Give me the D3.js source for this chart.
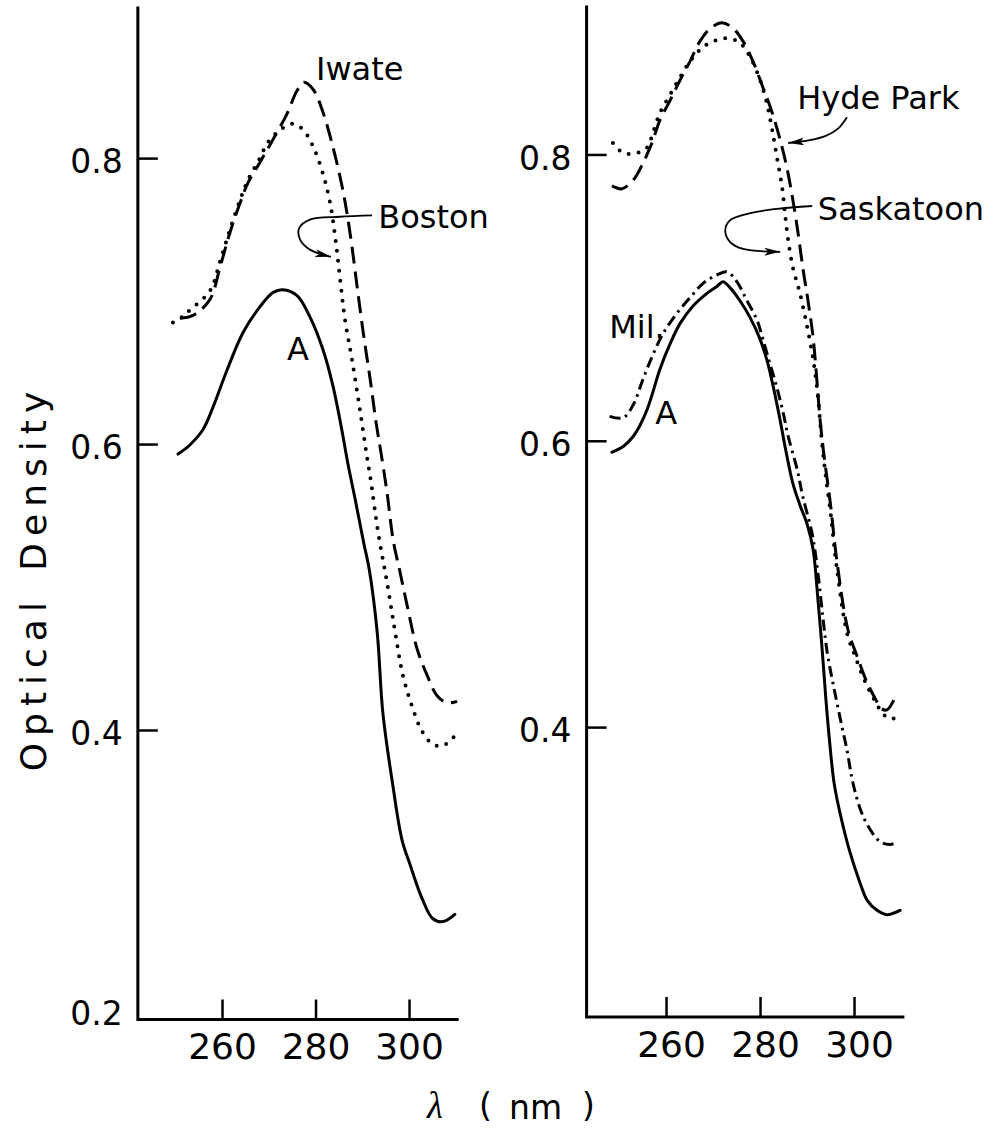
<!DOCTYPE html>
<html><head><meta charset="utf-8">
<script src="https://cdn.jsdelivr.net/npm/d3@7"></script>
<style>body{margin:0;background:#fff}</style>
</head><body>
<svg id="chart" width="992" height="1129" xmlns="http://www.w3.org/2000/svg"></svg>
<script>
// ---------- data (wavelength nm, optical density) ----------
const xTicks = [260, 280, 300];
const yTicksLeft = [0.2, 0.4, 0.6, 0.8];
const yTicksRight = [0.4, 0.6, 0.8];

const leftA = [[250.6,0.593],[253.0,0.599],[255.9,0.610],[258.1,0.626],[261.1,0.652],[264.5,0.678],[268.1,0.696],[270.9,0.706],[273.0,0.708],[276.0,0.704],[278.8,0.689],[281.6,0.666],[283.7,0.641],[285.5,0.612],[287.0,0.585],[288.5,0.561],[290.3,0.531],[291.5,0.512],[293.2,0.468],[294.4,0.412],[296.5,0.362],[298.5,0.323],[300.2,0.306],[302.8,0.282],[305.1,0.268],[307.3,0.266],[309.8,0.271]];
const iwate = [[251.0,0.688],[253.8,0.690],[257.4,0.701],[259.6,0.724],[261.7,0.748],[263.9,0.769],[265.6,0.783],[268.1,0.797],[270.9,0.813],[273.9,0.831],[276.0,0.847],[277.5,0.853],[279.5,0.848],[281.6,0.832],[283.7,0.808],[285.7,0.780],[286.7,0.762],[287.8,0.738],[288.9,0.710],[290.2,0.678],[291.7,0.645],[293.0,0.614],[294.0,0.594],[295.3,0.566],[296.6,0.533],[298.1,0.510],[299.6,0.487],[301.7,0.457],[303.9,0.438],[306.0,0.424],[308.1,0.419],[310.3,0.420]];
const boston = [[249.5,0.685],[251.5,0.689],[253.2,0.694],[257.4,0.707],[259.6,0.728],[261.7,0.750],[263.9,0.771],[265.6,0.785],[268.1,0.800],[269.6,0.810],[271.8,0.818],[275.0,0.824],[277.3,0.820],[279.5,0.808],[281.6,0.789],[283.1,0.769],[284.2,0.745],[285.2,0.717],[286.3,0.687],[287.8,0.659],[289.5,0.624],[291.0,0.591],[291.7,0.577],[293.4,0.538],[295.3,0.503],[297.0,0.469],[298.7,0.438],[300.6,0.417],[302.8,0.399],[305.1,0.390],[307.3,0.389],[309.8,0.396]];

const hydePark = [[248.5,0.778],[250.6,0.776],[253.0,0.782],[255.1,0.794],[257.0,0.808],[258.7,0.824],[260.9,0.838],[263.0,0.852],[265.1,0.865],[267.2,0.879],[269.4,0.888],[271.9,0.892],[274.3,0.888],[276.4,0.879],[278.5,0.865],[280.6,0.847],[282.6,0.829],[284.3,0.810],[285.7,0.791],[287.0,0.768],[288.1,0.745],[289.1,0.721],[290.2,0.698],[291.3,0.672],[292.1,0.642],[292.8,0.614],[293.6,0.590],[294.9,0.558],[296.4,0.515],[298.7,0.468],[300.6,0.450],[302.8,0.431],[304.5,0.420],[305.8,0.413],[307.0,0.412],[308.5,0.419]];
const saskatoon = [[248.7,0.808],[250.9,0.801],[253.8,0.801],[256.0,0.805],[257.2,0.815],[258.7,0.829],[260.9,0.842],[263.0,0.854],[265.1,0.865],[267.9,0.875],[270.9,0.880],[273.6,0.881],[275.7,0.878],[277.9,0.868],[280.0,0.852],[281.5,0.835],[282.6,0.817],[283.6,0.798],[284.7,0.777],[285.3,0.759],[286.0,0.740],[287.0,0.721],[288.5,0.703],[290.0,0.680],[291.3,0.657],[292.3,0.632],[293.0,0.605],[293.8,0.580],[295.0,0.550],[296.3,0.512],[298.5,0.466],[300.4,0.448],[302.6,0.430],[304.5,0.418],[306.0,0.410],[307.5,0.406],[309.8,0.407]];
const mil = [[248.0,0.617],[250.9,0.616],[253.0,0.625],[255.1,0.643],[257.2,0.660],[259.4,0.675],[262.3,0.689],[265.1,0.700],[267.9,0.710],[270.9,0.716],[273.0,0.718],[275.1,0.711],[277.2,0.698],[279.4,0.684],[280.6,0.671],[282.1,0.654],[283.6,0.637],[284.9,0.620],[286.0,0.603],[287.9,0.580],[289.1,0.561],[291.1,0.535],[292.3,0.508],[293.4,0.476],[294.3,0.452],[295.5,0.431],[297.0,0.407],[298.5,0.384],[299.7,0.362],[301.3,0.343],[302.8,0.332],[305.5,0.320],[307.7,0.318],[309.4,0.320]];
const rightA = [[248.5,0.592],[250.9,0.596],[253.0,0.603],[254.5,0.611],[256.0,0.622],[257.2,0.634],[258.7,0.650],[260.9,0.668],[263.0,0.682],[265.7,0.694],[268.7,0.703],[270.9,0.708],[272.1,0.711],[273.6,0.707],[275.7,0.698],[277.9,0.686],[280.0,0.671],[281.5,0.656],[282.8,0.638],[284.3,0.614],[285.5,0.593],[287.0,0.570],[288.5,0.555],[290.0,0.542],[291.3,0.524],[292.3,0.490],[293.2,0.455],[294.0,0.420],[294.8,0.390],[295.8,0.360],[297.3,0.336],[299.1,0.313],[301.3,0.291],[302.8,0.279],[304.9,0.272],[307.0,0.269],[309.8,0.272]];

// annotation arrows (data units)
const bostonArrow = [[292.1,0.760],[285.2,0.759],[278.8,0.757],[276.5,0.751],[276.7,0.743],[278.8,0.736],[283.3,0.731]];
const saskatoonArrow = [[291.1,0.764],[283.6,0.762],[277.9,0.759],[273.6,0.754],[272.6,0.747],[273.6,0.739],[276.4,0.734],[284.3,0.732]];
const hydeParkArrow = [[298.5,0.826],[296.6,0.818],[294.0,0.813],[290.6,0.810],[286.0,0.808]];

// ---------- layout ----------
const svg = d3.select("#chart");
svg.append("rect").attr("width",992).attr("height",1129).attr("fill","#fff");
const FONT = "'DejaVu Sans', Verdana, sans-serif";

const panels = [
  {x: d3.scaleLinear().domain([242, 310.3]).range([137.85, 457.2]),
   y: d3.scaleLinear().domain([0.1975, 0.905]).range([1019.5, 8]),
   yTicks: yTicksLeft, xdx: 0,
   series: [
     {data: leftA, style: "solid"},
     {data: iwate, style: "dashed"},
     {data: boston, style: "dotted"}],
   arrows: [bostonArrow],
   labels: [{t:"Iwate", p:[280.1,0.8545]}, {t:"Boston", p:[293.4,0.751]}, {t:"A", p:[273.9,0.659]}]},
  {x: d3.scaleLinear().domain([243.1, 310.4]).range([586.6, 902.9]),
   y: d3.scaleLinear().domain([0.1975, 0.903]).range([1017, 7]),
   yTicks: yTicksRight, xdx: 5,
   series: [
     {data: rightA, style: "solid"},
     {data: mil, style: "dashdot"},
     {data: hydePark, style: "dashed"},
     {data: saskatoon, style: "dotted"}],
   arrows: [saskatoonArrow, hydeParkArrow],
   labels: [{t:"Hyde Park", p:[287.9,0.832]}, {t:"Saskatoon", p:[292.3,0.754]}, {t:"Mil.", p:[247.9,0.672]}, {t:"A", p:[257.7,0.612]}]}
];

const styles = {
  solid:   {w:3, dash:null, cap:"round"},
  dashed:  {w:3, dash:"17,8", cap:"butt"},
  dotted:  {w:4, dash:"0,10", cap:"round"},
  dashdot: {w:3, dash:"11,5,2.5,5", cap:"butt"}
};

const defs = svg.append("defs");
defs.append("marker").attr("id","ah").attr("markerUnits","userSpaceOnUse")
  .attr("markerWidth",18).attr("markerHeight",10).attr("refX",16).attr("refY",4)
  .attr("orient","auto")
  .append("path").attr("d","M0,0 L16,4 L0,8 L4,4 Z").attr("fill","#000");

panels.forEach(P => {
  const g = svg.append("g");
  const [x0, x1] = P.x.range();
  const [yb, yt] = P.y.range();

  // y axis
  const ya = d3.axisLeft(P.y).tickValues(P.yTicks).tickSizeInner(-20).tickSizeOuter(0)
      .tickPadding(15).tickFormat(d3.format(".1f"));
  const gy = g.append("g").attr("transform", `translate(${x0},0)`).call(ya);
  gy.select(".domain").remove();
  gy.selectAll(".tick line").attr("stroke","#000").attr("stroke-width",2.5);
  gy.selectAll(".tick text").attr("font-family",FONT).attr("font-size",33).attr("fill","#000").attr("dy","0.45em");
  const t02 = gy.selectAll(".tick").filter(d => d === 0.2);
  t02.select("line").remove();
  t02.select("text").attr("dy","9px");

  // x axis
  const xa = d3.axisBottom(P.x).tickValues(xTicks).tickSizeInner(-20).tickSizeOuter(0)
      .tickPadding(14).tickFormat(d3.format("d"));
  const gx = g.append("g").attr("transform", `translate(0,${yb})`).call(xa);
  gx.select(".domain").remove();
  gx.selectAll(".tick line").attr("stroke","#000").attr("stroke-width",2.5);
  gx.selectAll(".tick text").attr("font-family",FONT).attr("font-size",36).attr("fill","#000").attr("dx",P.xdx);

  // axis frame lines
  g.append("path").attr("d", `M${x0},${yt} L${x0},${yb} L${x1},${yb}`)
    .attr("fill","none").attr("stroke","#000").attr("stroke-width",3).attr("stroke-linecap","square");

  // curves
  const line = d3.line().x(d => P.x(d[0])).y(d => P.y(d[1])).curve(d3.curveCatmullRom.alpha(0.5));
  P.series.forEach(s => {
    const st = styles[s.style];
    g.append("path").attr("d", line(s.data)).attr("fill","none").attr("stroke","#000")
      .attr("stroke-width", st.w).attr("stroke-dasharray", st.dash).attr("stroke-linecap", st.cap)
      .attr("stroke-linejoin","round");
  });

  // arrows
  const aline = d3.line().x(d => P.x(d[0])).y(d => P.y(d[1])).curve(d3.curveCatmullRom.alpha(0.5));
  P.arrows.forEach(a => {
    g.append("path").attr("d", aline(a)).attr("fill","none").attr("stroke","#000")
      .attr("stroke-width",1.8).attr("marker-end","url(#ah)");
  });

  // labels
  P.labels.forEach(l => {
    g.append("text").attr("x", P.x(l.p[0])).attr("y", P.y(l.p[1])).text(l.t)
      .attr("font-family",FONT).attr("font-size",32).attr("fill","#000");
  });
});

// axis titles
svg.append("text").attr("transform","translate(46,578) rotate(-90)")
  .attr("text-anchor","middle").attr("font-family",FONT).attr("font-size",36)
  .attr("letter-spacing","7px").attr("word-spacing","6px").attr("fill","#000")
  .text("Optical Density");

const xt = svg.append("g").attr("font-family",FONT).attr("font-size",33).attr("fill","#000");
xt.append("text").attr("x",427).attr("y",1118).attr("font-family","'Liberation Serif', serif")
  .attr("font-style","italic").attr("font-size",37).text("λ");
xt.append("text").attr("x",479).attr("y",1117).text("(");
xt.append("text").attr("x",509).attr("y",1119).text("n");
xt.append("text").attr("x",530).attr("y",1119).text("m");
xt.append("text").attr("x",582).attr("y",1117).text(")");
</script>
</body></html>
